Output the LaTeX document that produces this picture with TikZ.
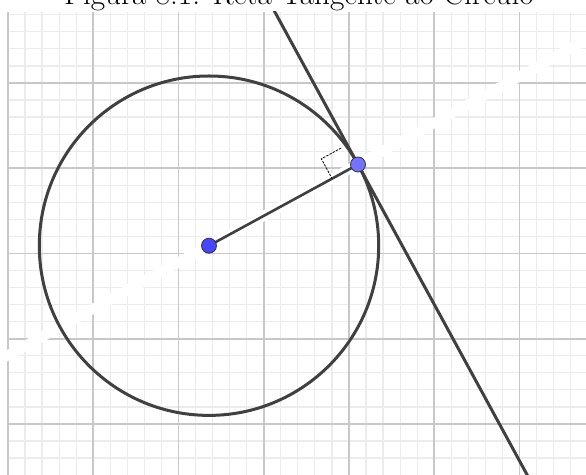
\documentclass[tikz,border=0pt]{standalone}
\usetikzlibrary{calc}
\definecolor{gminor}{RGB}{236,236,236}
\definecolor{gmajor}{RGB}{200,200,200}
\definecolor{curvecol}{RGB}{64,64,64}
\definecolor{ptO}{RGB}{70,70,255}
\definecolor{ptP}{RGB}{115,115,255}
\tikzset{
  minorline/.style={draw=gminor, line width=0.6pt},
  majorline/.style={draw=gmajor, line width=0.8pt},
  curve/.style={draw=curvecol, line width=1.5pt},
  seg/.style={draw=curvecol, line width=1.3pt},
  band/.style={draw=white, line width=5pt},
  rightmark/.style={draw=black, line width=0.4pt, dash pattern=on 1.2pt off 0.6pt},
  ptdot/.style={circle, draw=black!80, line width=0.4pt, inner sep=0pt, minimum size=7.5pt},
}
\begin{document}
\begin{tikzpicture}[x=0.5pt,y=-0.5pt]
\useasboundingbox (0,0) rectangle (586,475);
\fill[white] (0,0) rectangle (586,475);
\node[anchor=base, font=\fontsize{15.6}{18}\selectfont, inner sep=0pt] (title) at (299,5) {Figura 8.1: Reta Tangente ao Círculo};
\coordinate (o) at (209,245.7);
\coordinate (p) at (358,164.5);
\begin{scope}
\clip (7,12) rectangle (586,475);
\foreach \i in {0,...,34} {\draw[minorline] ({8+17.05*\i},12) -- ({8+17.05*\i},475);}
\foreach \j in {-3,...,24} {\draw[minorline] (7,{424-17.05*\j}) -- (586,{424-17.05*\j});}
\foreach \k in {0,...,6} {\draw[majorline] ({8+85.25*\k},12) -- ({8+85.25*\k},475);}
\foreach \k in {0,...,4} {\draw[majorline] (7,{424-85.25*\k}) -- (586,{424-85.25*\k});}
\draw[band] ($(o)!-1.5!(p)$) -- ($(o)!3!(p)$);
\draw[curve] (o) circle[radius=169.7];
\draw[curve] ($(p)!1.2!-90:(o)$) -- ($(p)!2.3!90:(o)$);
\end{scope}
\draw[seg] (o) -- (p);
\coordinate (v) at ($(p)!3.5pt!(o)$);
\coordinate (r) at ($(p)!14.75pt!(o)$);
\coordinate (t) at ($(v)!11.25pt!-90:(o)$);
\coordinate (c) at ($(r)!11.25pt!-90:(o)$);
\draw[rightmark] (t) -- (c) -- (r);
\node[ptdot, fill=ptO] (O) at (o) {};
\node[ptdot, fill=ptP] (P) at (p) {};
\end{tikzpicture}
\end{document}
